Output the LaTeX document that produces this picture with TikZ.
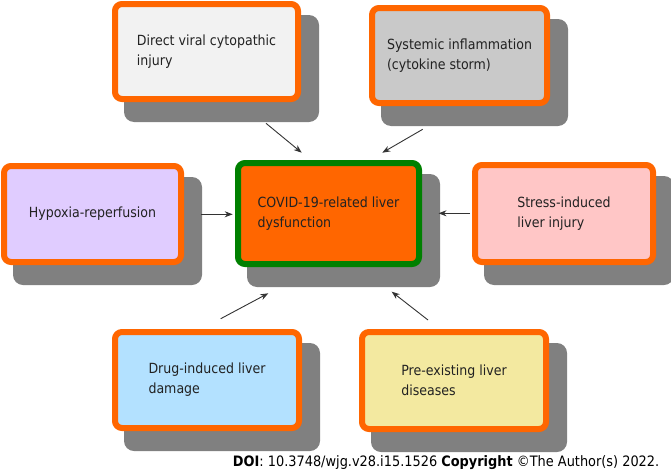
\documentclass[tikz,border=0pt]{standalone}
\usepackage{fontspec}
\setmainfont[FakeStretch=0.9]{DejaVu Sans}
\usetikzlibrary{arrows.meta}
\pgfdeclarelayer{bg}
\pgfsetlayers{bg,main}
\definecolor{orng}{HTML}{FF6600}
\definecolor{grn}{HTML}{008000}
\definecolor{shadowgray}{HTML}{808080}
\definecolor{txt}{HTML}{222222}
\definecolor{arrowc}{HTML}{333333}
\definecolor{fdirect}{HTML}{F2F2F2}
\definecolor{fsyst}{HTML}{C9C9C9}
\definecolor{fhyp}{HTML}{E0CCFF}
\definecolor{fstress}{HTML}{FFC6C6}
\definecolor{fdrug}{HTML}{B3E1FF}
\definecolor{fpre}{HTML}{F3E9A0}
\newcommand\myshadow[1]{\begin{pgfonlayer}{bg}\fill[shad] ([shift={(12,14)}]#1.north west) rectangle ([shift={(18,20)}]#1.south east);\end{pgfonlayer}}
\begin{document}
\begin{tikzpicture}[x=1pt,y=-1pt,
  box/.style={draw=orng, line width=6pt, rounded corners=7pt, align=left, text=txt,
    font=\fontsize{14}{20}\selectfont, inner sep=0pt},
  shad/.style={fill=shadowgray, rounded corners=10pt},
  arr/.style={draw=arrowc, line width=0.9pt, -{Stealth[length=8pt,width=6pt]}}]
\useasboundingbox (0,0) rectangle (671,471);

\node[box, fill=fdirect, minimum width=183, minimum height=95] (direct) at (206.5,51.5)
  {Direct viral cytopathic\\injury};
\node[box, fill=fsyst, minimum width=175, minimum height=95] (syst) at (459.5,55.5)
  {Systemic inflammation\\(cytokine storm)};
\node[box, fill=fhyp, minimum width=177, minimum height=96] (hyp) at (92.5,214)
  {Hypoxia-reperfusion};
\node[box, draw=grn, fill=orng, minimum width=181, minimum height=101] (covid) at (328.5,213.5)
  {COVID-19-related liver\\dysfunction};
\node[box, fill=fstress, minimum width=178, minimum height=97] (stress) at (564,213.5)
  {Stress-induced\\liver injury};
\node[box, fill=fdrug, minimum width=184, minimum height=96] (drug) at (207,380)
  {Drug-induced liver\\damage};
\node[box, fill=fpre, minimum width=184, minimum height=97] (pre) at (454,380.5)
  {Pre-existing liver\\diseases};

\myshadow{direct}
\myshadow{syst}
\myshadow{hyp}
\myshadow{covid}
\myshadow{stress}
\myshadow{drug}
\myshadow{pre}

\coordinate (a1s) at (266,123.3);   \coordinate (a1e) at (301.7,152.7);
\coordinate (a2s) at (422.7,129.3); \coordinate (a2e) at (382.3,152.7);
\coordinate (a3s) at (201,214.3);   \coordinate (a3e) at (232.7,214.3);
\coordinate (a4s) at (470,213.3);   \coordinate (a4e) at (438.5,213.3);
\coordinate (a5s) at (220.7,318.7); \coordinate (a5e) at (268.3,293.3);
\coordinate (a6s) at (428,320);     \coordinate (a6e) at (391.7,291.7);
\draw[arr] (a1s) -- (a1e);
\draw[arr] (a2s) -- (a2e);
\draw[arr] (a3s) -- (a3e);
\draw[arr] (a4s) -- (a4e);
\draw[arr] (a5s) -- (a5e);
\draw[arr] (a6s) -- (a6e);

\node[anchor=base west, inner sep=0pt, text=black, font=\fontsize{14.35}{16}\selectfont] (doi) at (232.7,466)
  {\textbf{DOI}: 10.3748/wjg.v28.i15.1526 \textbf{Copyright} ©The Author(s) 2022.};
\end{tikzpicture}
\end{document}
